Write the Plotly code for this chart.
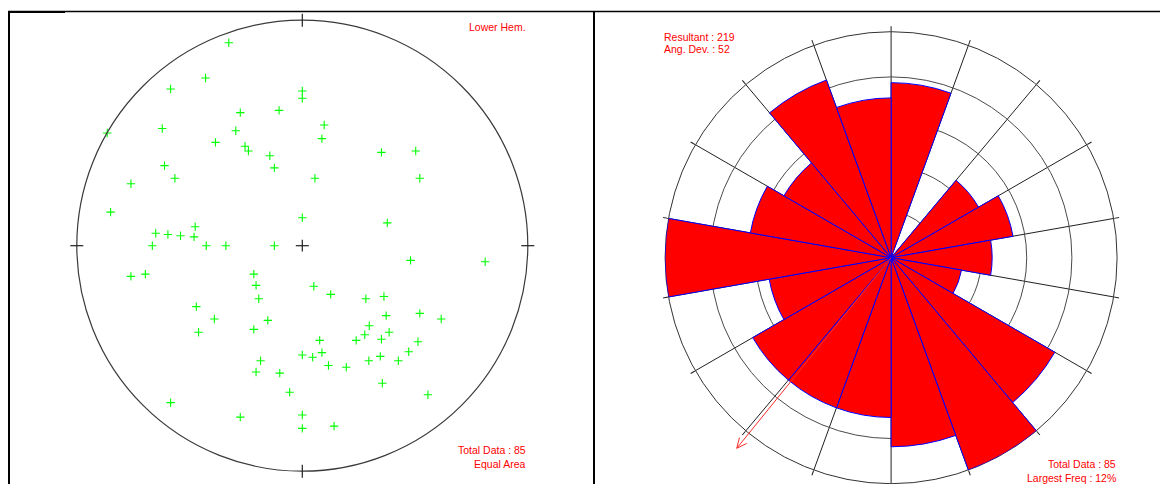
import numpy as np
import plotly.graph_objects as go

# ---------------- data ----------------
# Stereonet (equal area, lower hemisphere): projected positions on unit circle (east, north)
pole_east = [-0.326, -0.429, -0.584, 0.000, 0.000, -0.275, -0.103, -0.621, -0.865, -0.295,
             0.097, 0.087, -0.385, -0.254, -0.239, -0.144, 0.351, 0.503, -0.611, -0.124,
             -0.565, -0.760, 0.056, 0.521, -0.850, 0.000, 0.377, -0.475, -0.650, -0.596,
             -0.540, -0.480, -0.665, -0.426, -0.339, -0.124, 0.480, 0.811, -0.760, -0.696,
             -0.215, -0.205, 0.051, 0.126, 0.282, 0.362, -0.193, -0.470, -0.390, -0.153,
             0.372, 0.521, 0.616, 0.297, -0.460, -0.215, 0.385, 0.277, 0.239, 0.351,
             0.077, 0.513, 0.000, 0.046, 0.087, 0.472, 0.346, 0.295, 0.426, -0.185,
             0.116, 0.195, -0.205, -0.100, -0.056, 0.355, 0.557, -0.584, -0.275, 0.000,
             0.000, 0.141]
pole_north = [0.900, 0.744, 0.695, 0.686, 0.654, 0.590, 0.600, 0.520, 0.500, 0.510,
              0.535, 0.475, 0.458, 0.441, 0.420, 0.399, 0.414, 0.420, 0.355, 0.345,
              0.299, 0.275, 0.299, 0.299, 0.149, 0.124, 0.101, 0.084, 0.055, 0.050,
              0.044, 0.039, 0.000, 0.000, 0.000, 0.000, -0.065, -0.071, -0.136, -0.126,
              -0.126, -0.176, -0.180, -0.216, -0.235, -0.225, -0.235, -0.270, -0.325, -0.331,
              -0.310, -0.300, -0.325, -0.355, -0.384, -0.371, -0.384, -0.395, -0.420, -0.415,
              -0.420, -0.426, -0.485, -0.495, -0.474, -0.470, -0.491, -0.510, -0.510, -0.510,
              -0.531, -0.539, -0.560, -0.565, -0.650, -0.610, -0.661, -0.696, -0.760, -0.751,
              -0.810, -0.800]

# Rose diagram: 20-degree bins starting at north, counts per bin (total 85)
bin_start = list(range(0, 360, 20))
bin_counts = [6, 0, 2, 3, 2, 1, 7, 10, 7, 5, 5, 5, 3, 10, 4, 3, 7, 5]
resultant_dir = 219
ang_dev = 52
total_data = 85
largest_freq = 12

# ---------------- layout geometry ----------------
# the page body adds an 8 px margin, so the figure is drawn 8 px smaller / shifted
OFF = 8
W, H = 1168 - OFF, 484 - OFF


def px(x):
    return (x - OFF) / W


def py(y):
    return 1 - (y - OFF) / H


fig = go.Figure()

# --- stereonet (cartesian) ---
fig.add_trace(go.Scatter(
    x=pole_east, y=pole_north, mode="markers",
    marker=dict(symbol="cross-thin", size=6, color="#00ff00",
                line=dict(color="#00ff00", width=1.1)),
    cliponaxis=False, showlegend=False, hoverinfo="skip",
    xaxis="x", yaxis="y"))

# --- rose (polar, equal-area petals) ---
rmax = np.sqrt(max(bin_counts))
theta_c = [b + 10 for b in bin_start]
fig.add_trace(go.Barpolar(
    r=np.sqrt(bin_counts), theta=theta_c, width=[20] * len(bin_counts),
    marker=dict(color="#ff0000", line=dict(color="#0000ff", width=1)),
    showlegend=False, hoverinfo="skip", subplot="polar"))

# stereonet geometry: circle centre at px (302.3, 245.7), 225.5 px per unit
cx, cy, R = 302.3, 245.7, 225.5
xl, xr_, yt, yb = 10, 592, 13, 484
# rose geometry
rcx, rcy, RR = 891.1, 257.7, 226.0

fig.update_layout(
    width=W, height=H, margin=dict(l=0, r=0, t=0, b=0),
    paper_bgcolor="white", plot_bgcolor="white",
    xaxis=dict(domain=[px(xl), px(xr_)], range=[(xl - cx) / R, (xr_ - cx) / R],
               visible=False, fixedrange=True),
    yaxis=dict(domain=[py(yb), py(yt)], range=[(cy - yb) / R, (cy - yt) / R],
               visible=False, fixedrange=True),
    polar=dict(
        domain=dict(x=[px(rcx - RR), px(rcx + RR)],
                    y=[max(0, py(rcy + RR)), py(rcy - RR)]),
        bgcolor="white",
        radialaxis=dict(range=[0, rmax], showline=False, showticklabels=False,
                        ticks="", tickvals=[rmax * f for f in (0.2, 0.4, 0.6, 0.8, 1.0)],
                        gridcolor="#4a4a4a", gridwidth=1, layer="below traces"),
        angularaxis=dict(rotation=90, direction="clockwise", tickmode="array",
                         tickvals=bin_start, showticklabels=False, ticks="outside",
                         ticklen=5, tickcolor="#202020", tickwidth=1,
                         gridcolor="#202020", gridwidth=1, showline=True,
                         linecolor="#333333", linewidth=1, layer="below traces"),
    ),
)

shapes = []
# stereonet primitive circle
shapes.append(dict(type="circle", xref="x", yref="y", x0=-1, y0=-1, x1=1, y1=1,
                   line=dict(color="#3a3a3a", width=1.2)))
tk = 6.5 / R
for (x0, y0, x1, y1) in [(0, 1 - tk, 0, 1 + tk), (0, -1 - tk, 0, -1 + tk),
                         (1 - tk, 0, 1 + tk, 0), (-1 - tk, 0, -1 + tk, 0),
                         (-tk, 0, tk, 0), (0, -tk * 0.9, 0, tk * 0.9)]:
    shapes.append(dict(type="line", xref="x", yref="y", x0=x0, y0=y0, x1=x1, y1=y1,
                       line=dict(color="#202020", width=1.2)))

# resultant arrow (from rose centre along the resultant direction, past the outer circle)
ang = np.deg2rad(resultant_dir)
u = np.array([np.sin(ang), -np.cos(ang)])          # screen direction (y down)
tip = np.array([rcx, rcy]) + u * RR * 1.085
shapes.append(dict(type="line", xref="paper", yref="paper",
                   x0=px(rcx), y0=py(rcy), x1=px(tip[0]), y1=py(tip[1]),
                   line=dict(color="#ff2a2a", width=1)))
for s in (-1, 1):
    a2 = ang + s * np.deg2rad(25)
    u2 = np.array([np.sin(a2), -np.cos(a2)])
    back = tip - u2 * 11
    shapes.append(dict(type="line", xref="paper", yref="paper",
                       x0=px(tip[0]), y0=py(tip[1]), x1=px(back[0]), y1=py(back[1]),
                       line=dict(color="#ff2a2a", width=1)))

# panel frames
shapes.append(dict(type="line", xref="paper", yref="paper", x0=px(8), x1=1, y0=py(11.5),
                   y1=py(11.5), line=dict(color="black", width=1.3)))
shapes.append(dict(type="line", xref="paper", yref="paper", x0=px(8), x1=px(65), y0=py(12),
                   y1=py(12), line=dict(color="black", width=2)))
shapes.append(dict(type="line", xref="paper", yref="paper", x0=px(9), x1=px(9), y0=0,
                   y1=py(11), line=dict(color="black", width=2)))
shapes.append(dict(type="line", xref="paper", yref="paper", x0=px(594), x1=px(594), y0=0,
                   y1=py(11), line=dict(color="black", width=2)))
fig.update_layout(shapes=shapes)

font = dict(family="Arial, Liberation Sans, sans-serif", size=10.5, color="#ff0000")
ann = [
    ("Lower Hem.", 527.5, 26.7, "right"),
    (f"Total Data : {total_data}", 527.5, 450.0, "right"),
    ("Equal Area", 527.5, 464.0, "right"),
    (f"Resultant : {resultant_dir}", 662.5, 37.3, "left"),
    (f"Ang. Dev. : {ang_dev}", 662.5, 49.3, "left"),
    (f"Total Data : {total_data}", 1117.5, 464.3, "right"),
    (f"Largest Freq : {largest_freq}%", 1117.5, 477.8, "right"),
]
fig.update_layout(annotations=[
    dict(text=t, x=px(x), y=py(y), xref="paper", yref="paper", xanchor=a,
         yanchor="middle", showarrow=False, font=font) for (t, x, y, a) in ann])

fig.write_html("out.html")
